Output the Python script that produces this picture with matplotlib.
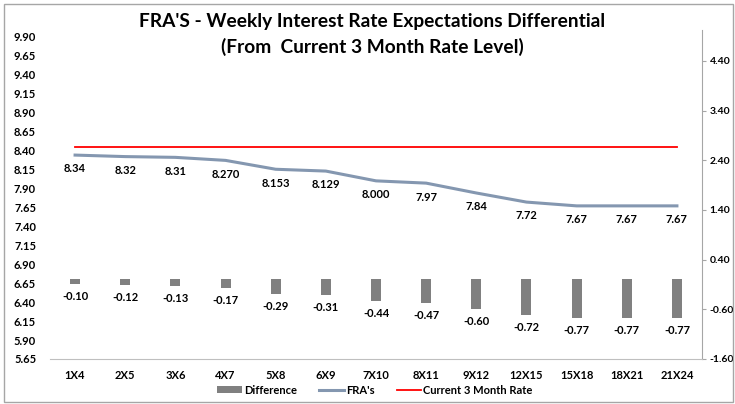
import matplotlib
matplotlib.use("Agg")
import matplotlib.pyplot as plt
from matplotlib.patches import Rectangle
import numpy as np

# data
tenors = ["1X4", "2X5", "3X6", "4X7", "5X8", "6X9", "7X10", "8X11",
          "9X12", "12X15", "15X18", "18X21", "21X24"]
fras = [8.34, 8.32, 8.31, 8.27, 8.153, 8.129, 8.000, 7.97, 7.84, 7.72, 7.67, 7.67, 7.67]
fra_labels = ["8.34", "8.32", "8.31", "8.270", "8.153", "8.129", "8.000",
              "7.97", "7.84", "7.72", "7.67", "7.67", "7.67"]
current_rate = 8.44
difference = [-0.10, -0.12, -0.13, -0.17, -0.29, -0.31, -0.44, -0.47,
              -0.60, -0.72, -0.77, -0.77, -0.77]
left_ticks = [5.65, 5.90, 6.15, 6.40, 6.65, 6.90, 7.15, 7.40, 7.65, 7.90,
              8.15, 8.40, 8.65, 8.90, 9.15, 9.40, 9.65, 9.90]
right_ticks = [-1.60, -0.60, 0.40, 1.40, 2.40, 3.40, 4.40]

plt.rcParams['font.family'] = ['Lato', 'DejaVu Sans']
plt.rcParams['font.weight'] = 'bold'

W, H = 735, 404
fig = plt.figure(figsize=(W / 100, H / 100), dpi=100)
ax = fig.add_axes([50 / W, 1 - 359 / H, (702 - 50) / W, (359 - 30) / H])
ax2 = ax.twinx()

x = np.arange(len(tenors))
blue = "#8497b0"
red = "#ff0000"
grey = "#808080"
fs = 8

# bars on the secondary axis
ax2.bar(x, difference, width=0.2, color=grey, zorder=2, label="Difference")
for xi, v in zip(x, difference):
    ax2.annotate(f"{v:.2f}", (xi, v), xytext=(0, -9), textcoords="offset points",
                 ha="center", va="center", fontsize=fs, fontweight="bold")

# lines on the primary axis
ax.plot(x, fras, color=blue, lw=2.2, label="FRA's", zorder=3)
ax.plot(x, [current_rate] * len(x), color=red, lw=1.3, label="Current 3 Month Rate", zorder=3)
for xi, v, s in zip(x, fras, fra_labels):
    ax.annotate(s, (xi, v), xytext=(0, -10), textcoords="offset points",
                ha="center", va="center", fontsize=fs, fontweight="bold")

ax.set_zorder(ax2.get_zorder() + 1)
ax.patch.set_visible(False)

ax.set_xlim(-0.5, len(tenors) - 0.5)
ax.set_ylim(5.65, 9.99)
ax2.set_ylim(-1.60, 5.02)
ax.set_yticks(left_ticks)
ax.set_yticklabels([f"{t:.2f}" for t in left_ticks])
ax2.set_yticks(right_ticks)
ax2.set_yticklabels([f"{t:.2f}" for t in right_ticks])
ax.set_xticks(x)
ax.set_xticklabels(tenors)

for a in (ax, ax2):
    for s in a.spines.values():
        s.set_visible(False)
ax.spines["bottom"].set_visible(True)
ax.spines["bottom"].set_color("#bfbfbf")
ax2.spines["right"].set_visible(True)
ax2.spines["right"].set_color("#a6a6a6")

ax.tick_params(axis="x", length=0, pad=8, labelsize=fs)
ax.tick_params(axis="y", length=0, pad=10, labelsize=fs)
ax2.tick_params(axis="y", length=3, color="#a6a6a6", pad=2.5, labelsize=7.5)

fig.text(372 / W, 1 - 22 / H, "FRA'S - Weekly Interest Rate Expectations Differential",
         ha="center", va="center", fontsize=13.8, fontweight="bold")
fig.text(372 / W, 1 - 47 / H, "(From  Current 3 Month Rate Level)",
         ha="center", va="center", fontsize=13.8, fontweight="bold")

h1, l1 = ax2.get_legend_handles_labels()
h2, l2 = ax.get_legend_handles_labels()
fig.legend(h1 + h2, l1 + l2, loc="center", bbox_to_anchor=(375 / W, 1 - 390 / H),
           ncol=3, frameon=False, fontsize=fs, handlelength=2.2, handleheight=0.6,
           columnspacing=2.0, handletextpad=0.2, borderpad=0.1)

fig.patches.append(Rectangle((4 / W, 2 / H), (733 - 4) / W, (400 - 2) / H,
                             transform=fig.transFigure, fill=False,
                             edgecolor="#a6a6a6", lw=1))

fig.savefig("out.png", dpi=100)
